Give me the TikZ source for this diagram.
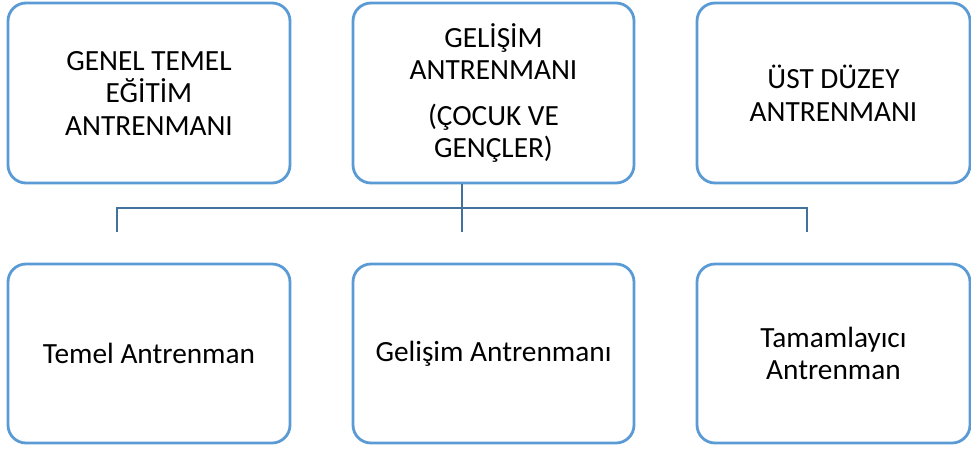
\documentclass[tikz,border=0pt]{standalone}
\usepackage{fontspec}
\setmainfont{Carlito}
\definecolor{boxblue}{HTML}{5B9BD5}
\definecolor{connblue}{HTML}{41719C}
\begin{document}
\begin{tikzpicture}[x=1pt,y=-1pt,
  box/.style={draw=boxblue, line width=2.8pt, rounded corners=18pt, fill=white,
    minimum height=180pt, inner sep=0pt, align=center,
    font=\fontsize{29.3}{32.5}\selectfont},
  conn/.style={draw=connblue, line width=2.6pt}]
\useasboundingbox (0,0) rectangle (971,448);
\node[box, minimum width=282pt] (b1) at (149,93) {GENEL TEMEL\\EĞİTİM\\ANTRENMANI};
\node[box, minimum width=281pt] (b2) at (493.5,93) {GELİŞİM\\ANTRENMANI\\[13pt](ÇOCUK VE\\GENÇLER)};
\node[box, minimum width=273pt] (b3) at (833.5,93) {ÜST DÜZEY\\ANTRENMANI};
\node[box, minimum width=282pt, minimum height=179pt] (c1) at (149,353.5) {Temel Antrenman};
\node[box, minimum width=281pt, minimum height=179pt] (c2) at (493.5,353.5) {Gelişim Antrenmanı};
\node[box, minimum width=273pt, minimum height=179pt] (c3) at (833.5,353.5) {Tamamlayıcı\\Antrenman};
\coordinate (jM) at (462,208);
\coordinate (tL) at (117,232);
\coordinate (tM) at (462,232);
\coordinate (tR) at (807,232);
\draw[conn] (tL) |- (jM) -| (tR);
\draw[conn] (b2.south -| jM) -- (tM);
\end{tikzpicture}
\end{document}
